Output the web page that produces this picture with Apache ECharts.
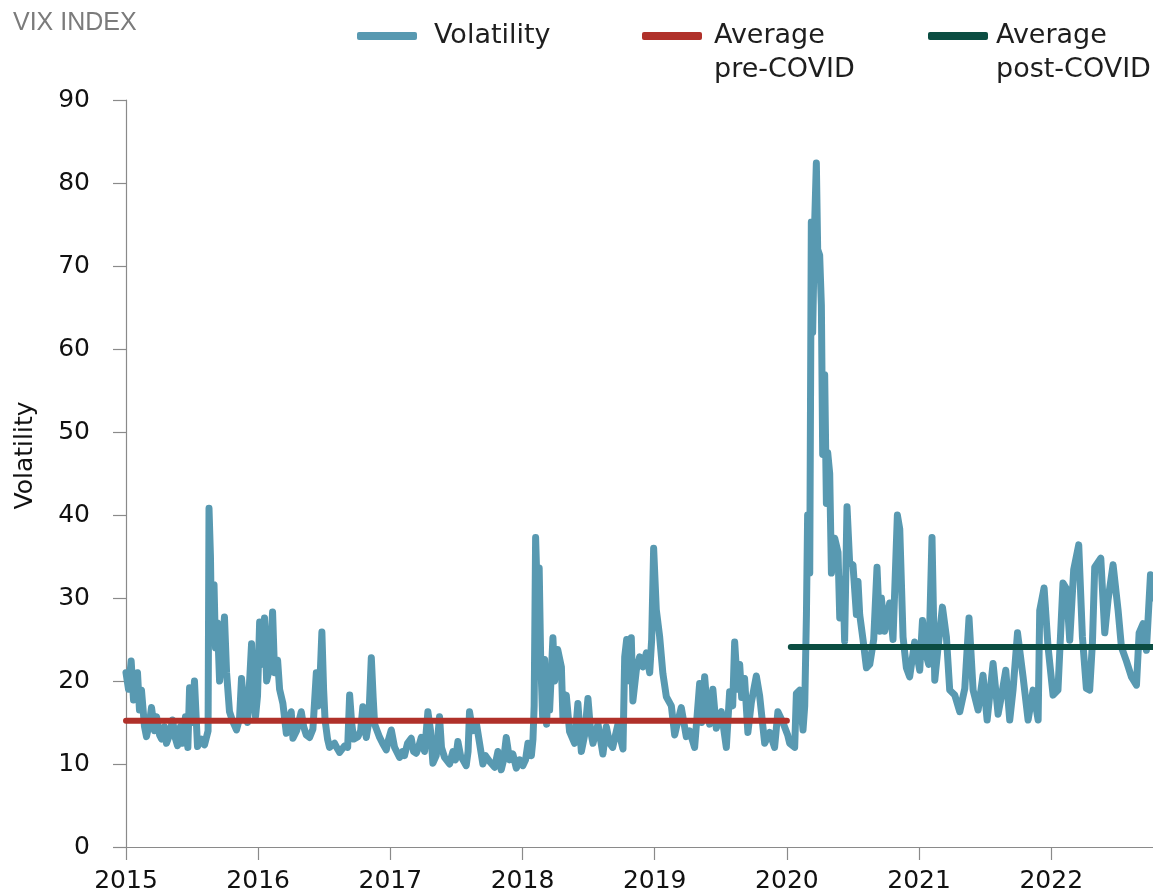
<!DOCTYPE html>
<html><head><meta charset="utf-8">
<script src="https://cdn.jsdelivr.net/npm/echarts/dist/echarts.min.js"></script>
<style>html,body{margin:0;padding:0;background:#fff}#c{width:1153px;height:896px}</style>
</head><body><div id="c"></div>
<script>
const titleText = 'VIX INDEX';
const yAxisTitle = 'Volatility';
const seriesNames = ['Volatility', 'Average\npre-COVID', 'Average\npost-COVID'];
const yearTicks = [2015, 2016, 2017, 2018, 2019, 2020, 2021, 2022];
const yTicks = [0, 10, 20, 30, 40, 50, 60, 70, 80, 90];

// decimal-year dates of the VIX readings
const dates = [
 2015.000,2015.019,2015.039,2015.057,2015.072,2015.087,2015.102,2015.117,2015.140,2015.155,2015.178,2015.193,2015.216,2015.231,2015.254,2015.269,2015.291,2015.306,2015.329,2015.352,2015.375,2015.390,2015.412,2015.428,2015.450,2015.468,2015.481,2015.503,2015.518,2015.541,2015.571,2015.594,2015.609,2015.621,2015.628,2015.639,2015.647,2015.666,2015.677,2015.692,2015.708,2015.723,2015.745,2015.761,2015.783,2015.806,2015.836,2015.859,2015.874,2015.897,2015.919,2015.950,2015.965,2015.980,2015.995,
 2016.011,2016.026,2016.048,2016.064,2016.086,2016.109,2016.124,2016.147,2016.162,2016.187,2016.213,2016.230,2016.250,2016.263,2016.291,2016.326,2016.344,2016.364,2016.389,2016.414,2016.440,2016.453,2016.465,2016.482,2016.495,2016.506,2016.525,2016.540,2016.578,2016.601,2016.616,2016.654,2016.677,2016.692,2016.707,2016.722,2016.755,2016.775,2016.792,2016.818,2016.836,2016.856,2016.870,2016.881,2016.919,2016.941,2016.969,2016.987,
 2017.007,2017.032,2017.070,2017.092,2017.107,2017.130,2017.158,2017.176,2017.196,2017.213,2017.234,2017.259,2017.284,2017.304,2017.322,2017.347,2017.372,2017.387,2017.410,2017.448,2017.473,2017.493,2017.511,2017.531,2017.549,2017.574,2017.588,2017.599,2017.622,2017.650,2017.675,2017.700,2017.720,2017.751,2017.789,2017.814,2017.839,2017.857,2017.877,2017.902,2017.927,2017.953,2017.978,
 2018.003,2018.023,2018.041,2018.067,2018.079,2018.088,2018.099,2018.114,2018.126,2018.137,2018.152,2018.167,2018.182,2018.194,2018.205,2018.230,2018.243,2018.266,2018.294,2018.306,2018.331,2018.356,2018.394,2018.419,2018.445,2018.470,2018.495,2018.515,2018.533,2018.571,2018.608,2018.634,2018.659,2018.682,2018.722,2018.742,2018.760,2018.773,2018.788,2018.810,2018.823,2018.835,2018.861,2018.886,2018.911,2018.937,2018.962,2018.977,2018.992,
 2019.012,2019.037,2019.062,2019.088,2019.126,2019.151,2019.173,2019.201,2019.239,2019.264,2019.302,2019.340,2019.355,2019.378,2019.400,2019.415,2019.440,2019.466,2019.504,2019.542,2019.567,2019.590,2019.605,2019.627,2019.643,2019.658,2019.680,2019.705,2019.731,2019.769,2019.794,2019.832,2019.870,2019.907,2019.932,2019.970,
 2020.006,2020.021,2020.059,2020.072,2020.097,2020.122,2020.135,2020.148,2020.157,2020.173,2020.185,2020.195,2020.210,2020.223,2020.233,2020.248,2020.261,2020.271,2020.286,2020.299,2020.309,2020.324,2020.337,2020.362,2020.387,2020.400,2020.425,2020.437,2020.455,2020.475,2020.500,2020.526,2020.538,2020.551,2020.576,2020.602,2020.627,2020.657,2020.682,2020.702,2020.715,2020.740,2020.778,2020.803,2020.836,2020.854,2020.879,2020.904,2020.929,2020.967,
 2021.005,2021.026,2021.056,2021.073,2021.098,2021.119,2021.144,2021.177,2021.207,2021.232,2021.270,2021.308,2021.346,2021.378,2021.409,2021.447,2021.484,2021.515,2021.560,2021.598,2021.627,2021.656,2021.686,2021.711,2021.745,2021.787,2021.825,2021.863,2021.901,2021.913,2021.946,2021.976,
 2022.014,2022.051,2022.089,2022.115,2022.140,2022.170,2022.208,2022.236,2022.266,2022.291,2022.312,2022.329,2022.375,2022.405,2022.430,2022.468,2022.506,2022.531,2022.569,2022.607,2022.645,2022.665,2022.695,2022.720,2022.751,2022.768
];

const vix = [
 21,19,22.4,17.7,19.5,21,16.5,18.9,14.5,13.3,15,16.8,14,15.7,13.5,13,14.5,12.5,13.5,15.3,13,12.2,14.5,12.5,15.7,12,19.2,15,20,12.1,13,12.3,12.5,14,40.8,35,26,31.6,24,27,20,22.5,27.7,21,16.3,15.2,14.1,15.5,20.3,16,15,24.5,17.5,15.7,18.2,
 27.1,22,27.6,20,21.5,28.3,21,22.5,19,17.3,13.7,15.2,16.3,13.1,14,16.3,14.5,13.5,13.2,14.2,21,17,19,25.9,19,15.3,13,12,12.5,11.8,11.4,12.2,12,18.3,15,13,13.3,14,16.9,13.2,15,22.8,18,14.8,13.2,12.5,11.7,13,
 14.1,12,10.8,11.5,11,12.5,13.1,11.5,11.3,12,13.2,11.5,16.3,14,10.1,11,15.7,12,10.8,10,11.5,10.5,12.7,11,10.5,9.8,11.5,16.3,14,15,12.5,10,11,10.3,9.6,11.5,9.3,10.5,13.2,10.5,11.2,9.5,10.5,
 9.8,10.5,12.5,11,13,17,37.3,29,33.6,22.9,15.7,22.6,14.8,20,16.5,25.2,20,23.8,21.7,15.3,18.3,13.9,12.5,17.3,11.5,13.5,17.9,14,12.5,14.8,11.2,14.5,12.5,12,14.8,13,11.8,22.9,25,20,25.2,17.6,21.3,22.9,21.7,23.4,21,25,36,
 28.6,25.4,20.9,18.1,17,13.5,15,16.8,13.3,14,12,19.7,15,20.5,16,14.8,19,14.3,16.3,12,18.7,17,24.7,19,22,18,20.3,13.8,17.4,20.6,18.2,12.5,13.8,12,16.3,15,
 13.5,12.5,12,18.5,18.9,14.1,17,28,40,33,75.3,62,75,82.4,72,71.3,65.3,47.3,56.9,41.4,47.5,45,33,37.2,35.5,27.6,32.3,24.8,41,34.2,34,28,32,28,25,21.6,22,25,33.7,26,30,26,29.4,25,40,38.3,25.3,21.6,20.5,24.7,
 21.3,27.3,23,22,37.3,20.1,24.1,28.9,25.3,18.9,18.3,16.3,19.1,27.6,18.9,16.5,20.7,15.3,22.1,16,18.5,21.3,15.3,18.9,25.8,20.5,15.3,18.9,15.3,28.5,31.2,24.1,
 18.3,18.9,31.8,31.1,24.9,33.4,36.4,25.3,19.1,18.9,24.7,33.7,34.8,25.8,29.8,34,28.5,24.1,22.4,20.5,19.5,25.8,26.9,23.7,32.8,30
];

const preCovidPeriod = [2015.0, 2020.0];
const preCovidAvg = 15.2;
const postCovidPeriod = [2020.03, 2022.77];
const postCovidAvg = 24.1;

const colors = ['#5899B1', '#B0312A', '#0B4D42'];
const FONT = '"DejaVu Sans", sans-serif';

const chart = echarts.init(document.getElementById('c'), null, {renderer: 'canvas'});

const volData = dates.map((d, i) => [d, vix[i]]);
const preData = preCovidPeriod.map(d => [d, preCovidAvg]);
const postData = postCovidPeriod.map(d => [d, postCovidAvg]);

function legendCfg(name, left, top, padLeft, twoLine) {
  return {
    data: [name], left: left, top: top, padding: 0, orient: 'horizontal',
    itemWidth: 60, itemHeight: 8, icon: 'roundRect', selectedMode: false,
    formatter: twoLine ? (n => '\n' + n) : (n => n),
    textStyle: {fontFamily: FONT, fontSize: 27, color: '#1e1e1e', lineHeight: 34,
      padding: [0, 0, 0, padLeft]}
  };
}

chart.setOption({
  animation: false,
  backgroundColor: '#ffffff',
  title: {text: titleText, left: 13, top: 11, padding: 0,
    textStyle: {fontFamily: '"Liberation Sans", Arial, sans-serif', fontSize: 25, fontWeight: 'normal', color: '#7b7b7b'}},
  legend: [
    legendCfg(seriesNames[0], 357, 19, 12, false),
    legendCfg(seriesNames[1], 642, -15, 7, true),
    legendCfg(seriesNames[2], 928, -15, 3, true)
  ],
  grid: {left: 126, right: 0, top: 100, bottom: 49, containLabel: false},
  xAxis: {
    type: 'value', min: yearTicks[0], max: postCovidPeriod[1], interval: 1,
    splitLine: {show: false},
    axisLine: {show: true, lineStyle: {color: '#8a8a8a', width: 1.2}},
    axisTick: {show: true, length: 13, lineStyle: {color: '#8a8a8a', width: 1.2}, customValues: yearTicks},
    axisLabel: {customValues: yearTicks, margin: 22, fontFamily: FONT, fontSize: 25, color: '#111',
      formatter: v => String(Math.round(v))}
  },
  yAxis: {
    type: 'value', min: yTicks[0], max: yTicks[yTicks.length - 1], interval: 10,
    name: yAxisTitle, nameLocation: 'middle', nameGap: 88,
    nameTextStyle: {fontFamily: FONT, fontSize: 25, color: '#111', padding: [0, 0, 0, 36]},
    splitLine: {show: false},
    axisLine: {show: true, lineStyle: {color: '#8a8a8a', width: 1.2}},
    axisTick: {show: true, length: 13, lineStyle: {color: '#8a8a8a', width: 1.2}},
    axisLabel: {margin: 36, fontFamily: FONT, fontSize: 25, color: '#111'}
  },
  series: [
    {name: seriesNames[0], type: 'line', data: volData, showSymbol: false, symbol: 'none',
     color: colors[0], clip: true,
     lineStyle: {color: colors[0], width: 7, cap: 'round', join: 'round'}},
    {name: seriesNames[1], type: 'line', data: preData, showSymbol: false, symbol: 'none',
     color: colors[1], lineStyle: {color: colors[1], width: 6, cap: 'round'}},
    {name: seriesNames[2], type: 'line', data: postData, showSymbol: false, symbol: 'none',
     color: colors[2], lineStyle: {color: colors[2], width: 6, cap: 'round'}}
  ]
});
</script></body></html>
